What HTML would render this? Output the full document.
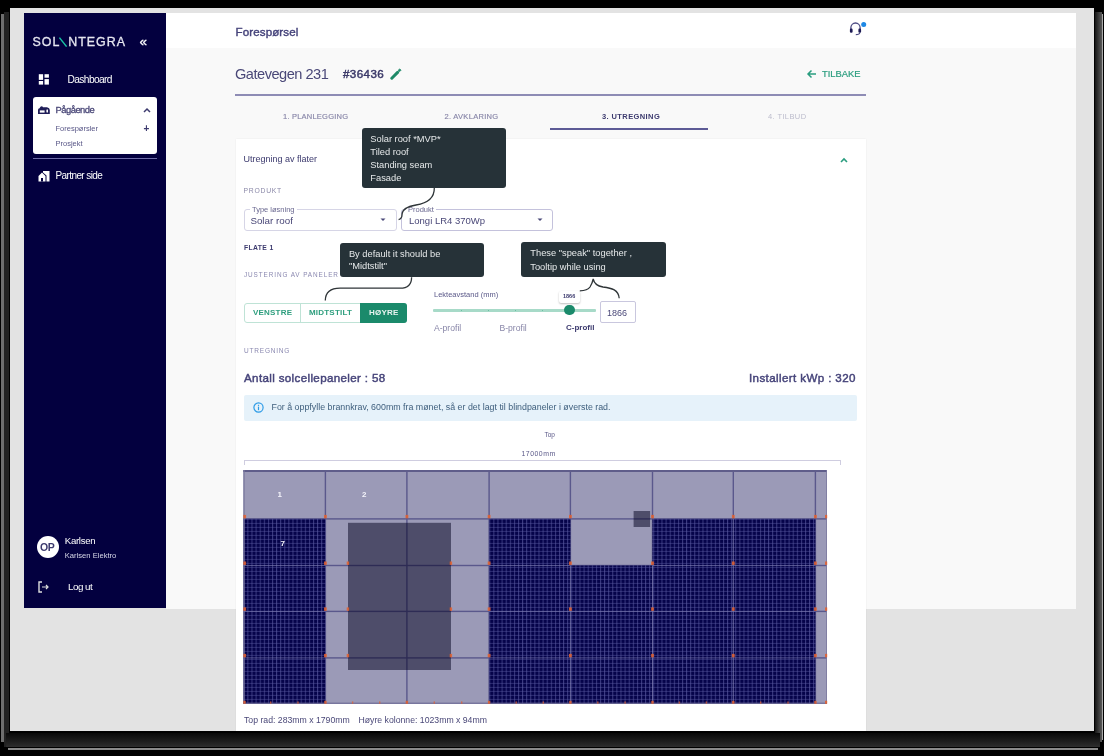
<!DOCTYPE html>
<html><head><meta charset="utf-8">
<style>
*{margin:0;padding:0;box-sizing:border-box}
html,body{width:1104px;height:756px;overflow:hidden;background:#000;font-family:"Liberation Sans",sans-serif}
.a{position:absolute}
.t{position:absolute;white-space:nowrap;line-height:1}
#frame{left:10px;top:8px;width:1084px;height:723px;background:#e3e3e3}
#side{left:24px;top:13px;width:142px;height:595px;background:#03003f}
#hdr{left:166px;top:13px;width:910px;height:35px;background:#fff}
#main{left:166px;top:48px;width:910px;height:561px;background:#f9f9f9}
#card{left:236px;top:139px;width:630px;height:592px;background:#fff;box-shadow:0 0 1.5px rgba(0,0,0,0.08)}
.tip{position:absolute;background:#263238;border-radius:3px;color:#eceff1;font-size:9.5px}
.w{color:#fff}
.pu{color:#3c3a6e}
</style></head><body><div id="wrap" style="position:absolute;left:0;top:0;width:1104px;height:756px;overflow:hidden;filter:blur(0.3px)">
<!-- shadow edges -->
<div class="a" style="left:1px;top:14px;width:3px;height:728px;background:#6e6e6e"></div>
<div class="a" style="left:4px;top:12px;width:5px;height:735px;background:#222"></div>
<div class="a" style="left:1095px;top:12px;width:7px;height:730px;background:linear-gradient(to right,#151515,#5a5a5a)"></div>
<div class="a" style="left:1102px;top:14px;width:1px;height:726px;background:#aaa"></div>
<div class="a" style="left:6px;top:733px;width:1094px;height:14px;background:linear-gradient(#080808,#1a1a1a 50%,#2e2e2e)"></div>
<div class="a" style="left:8px;top:747.5px;width:1090px;height:2px;background:#8a8a8a"></div>

<div id="frame" class="a"></div>
<div id="side" class="a"></div>
<div id="hdr" class="a"></div>
<div id="main" class="a"></div>
<div id="card" class="a"></div>

<!-- SIDEBAR -->
<div class="t" style="left:32.5px;top:36px;font-size:12.4px;letter-spacing:1.0px;color:#e6e6f0;-webkit-text-stroke:0.3px #e6e6f0">SOL<span style="display:inline-block;width:8px"></span>NTEGRA</div>
<svg class="a" style="left:58px;top:37px" width="10" height="11" viewBox="0 0 10 11"><path d="M1.4 0.6 L8.6 9.6" stroke="#19c4a6" stroke-width="1.5"/></svg>
<div class="t w" style="left:139.5px;top:34.5px;font-size:13.5px;-webkit-text-stroke:0.3px #fff">«</div>

<svg class="a" style="left:38px;top:74px" width="12" height="11" viewBox="0 0 12 11">
<rect x="0.8" y="0.2" width="4.3" height="5.7" fill="#fff"/><rect x="6.5" y="0.2" width="4.4" height="3.5" fill="#fff"/>
<rect x="0.8" y="7" width="4.3" height="3.6" fill="#fff"/><rect x="6.5" y="5.1" width="4.4" height="5.5" fill="#fff"/>
</svg>
<div class="t w" style="left:67.5px;top:74.5px;font-size:10.2px;letter-spacing:-0.6px">Dashboard</div>

<div class="a" style="left:33px;top:97px;width:124px;height:57px;background:#fff;border-radius:3px"></div>
<svg class="a" style="left:37px;top:105px" width="14" height="10" viewBox="0 0 14 10">
<path d="M1 9 V5 Q1 3.3 2.5 3.2 L3.5 1.8 Q4.5 0.6 5.5 1.6 L6 2.2 H10 Q12.8 2.8 12.8 5 V9 Z" fill="#1f1d58"/>
<rect x="2.8" y="5.4" width="4.8" height="2.2" fill="#fff"/><ellipse cx="10.2" cy="6" rx="0.9" ry="1.8" fill="#fff"/>
</svg>
<div class="t pu" style="left:55.5px;top:105.2px;font-size:9.4px;letter-spacing:-0.5px;color:#4a4878;-webkit-text-stroke:0.3px #4a4878">Pågående</div>
<svg class="a" style="left:143px;top:107px" width="8" height="6" viewBox="0 0 8 6"><path d="M1 5 L4 2 L7 5" fill="none" stroke="#3c3a6e" stroke-width="1.5"/></svg>
<div class="t" style="left:55.5px;top:125px;font-size:7.5px;color:#5a5888">Forespørsler</div>
<div class="t" style="left:143.5px;top:124px;font-size:10px;font-weight:bold;color:#3c3a6e">+</div>
<div class="t" style="left:55.5px;top:140px;font-size:7.5px;color:#5a5888">Prosjekt</div>

<div class="a" style="left:33px;top:158px;width:124px;height:1px;background:#6e6ca8"></div>

<svg class="a" style="left:38px;top:170px" width="12" height="12" viewBox="0 0 12 12">
<path d="M0.5 6 L4 2.5 L7.5 6 V11.5 H0.5Z" fill="#fff"/><path d="M5 1 h6.5 v10.5 h-3 V5.5 L5 2.5z" fill="#fff"/>
<rect x="3" y="8" width="2" height="3.5" fill="#03003f"/>
</svg>
<div class="t w" style="left:55.5px;top:171px;font-size:10px;letter-spacing:-0.6px">Partner side</div>

<div class="a" style="left:37px;top:536px;width:22px;height:22px;border-radius:50%;background:#fff"></div>
<div class="t" style="left:40px;top:541.5px;font-size:10.5px;font-weight:bold;color:#3c3a6e;letter-spacing:-0.4px">OP</div>
<div class="t w" style="left:64.8px;top:536px;font-size:9.6px;letter-spacing:-0.3px">Karlsen</div>
<div class="t" style="left:64.8px;top:551.5px;font-size:7.6px;color:#d8d8e8">Karlsen Elektro</div>

<svg class="a" style="left:38px;top:581px" width="12" height="12" viewBox="0 0 12 12">
<path d="M4 1 H1 V11 H4" fill="none" stroke="#ddd" stroke-width="1.4"/>
<path d="M4 6 H10 M8 4 L10 6 L8 8" fill="none" stroke="#ddd" stroke-width="1.2"/>
</svg>
<div class="t w" style="left:68px;top:581.5px;font-size:9.8px;letter-spacing:-0.5px">Log ut</div>

<!-- HEADER -->
<div class="t pu" style="left:235.5px;top:25.5px;font-size:11.6px;color:#44427a;-webkit-text-stroke:0.4px #44427a;letter-spacing:0.1px">Forespørsel</div>
<svg class="a" style="left:849px;top:21px" width="18" height="15" viewBox="0 0 18 15">
<path d="M1.9 10 V6.6 a4.6 4.6 0 0 1 9.2 0 V10" fill="none" stroke="#4e4c84" stroke-width="1.3"/>
<rect x="0.9" y="7.6" width="2.7" height="4.2" rx="1.1" fill="#1d1b55"/><rect x="9.4" y="7.6" width="2.7" height="4.2" rx="1.1" fill="#1d1b55"/>
<path d="M10.8 11.5 Q10.6 13.6 6.8 13.7" fill="none" stroke="#4e4c84" stroke-width="1.2"/>
<circle cx="14.7" cy="3.4" r="2.5" fill="#1e88e5"/>
</svg>

<!-- TITLE -->
<div class="t" style="left:235px;top:67px;font-size:14.6px;letter-spacing:-0.5px;color:#4a4878">Gatevegen 231</div>
<div class="t" style="left:343px;top:67.8px;font-size:11.6px;color:#3a3868;-webkit-text-stroke:0.45px #3a3868;letter-spacing:0.4px">#36436</div>
<svg class="a" style="left:390px;top:68px" width="12" height="12" viewBox="0 0 12 12"><path d="M1.8 10.2 L7.6 4.4" stroke="#1e8a68" stroke-width="3" stroke-linecap="round"/><path d="M8.2 2.2 L9.8 0.9 L11 2.2 L9.7 3.6 Z" fill="#1e8a68" stroke="#1e8a68" stroke-width="0.8"/></svg>
<svg class="a" style="left:806px;top:69px" width="11" height="10" viewBox="0 0 11 10"><path d="M10 5 H2 M5.5 1.5 L2 5 L5.5 8.5" fill="none" stroke="#2a9d7f" stroke-width="1.5"/></svg>
<div class="t" style="left:822px;top:69.2px;font-size:9.4px;color:#2a9d7f;-webkit-text-stroke:0.2px #2a9d7f">TILBAKE</div>
<div class="a" style="left:235px;top:93.5px;width:631px;height:2px;background:#8e8cb5"></div>

<!-- STEPPER -->
<div class="t" style="left:283px;top:113px;font-size:7.5px;color:#8886a8;letter-spacing:0.22px;-webkit-text-stroke:0.15px #8886a8">1. PLANLEGGING</div>
<div class="t" style="left:444.5px;top:113px;font-size:7.5px;color:#8886a8;letter-spacing:0.3px;-webkit-text-stroke:0.15px #8886a8">2. AVKLARING</div>
<div class="t" style="left:602px;top:113px;font-size:7.5px;font-weight:bold;color:#3c3a6e;letter-spacing:0.4px">3. UTREGNING</div>
<div class="t" style="left:768px;top:113px;font-size:7.5px;color:#bcbccc;letter-spacing:0.4px">4. TILBUD</div>
<div class="a" style="left:550px;top:128px;width:158px;height:2px;background:#5d5b96"></div>

<!-- CARD CONTENT -->
<div class="t" style="left:243.5px;top:155px;font-size:9px;color:#3c3a6e">Utregning av flater</div>
<svg class="a" style="left:840px;top:157px" width="8" height="6" viewBox="0 0 8 6"><path d="M1 5 L4 2 L7 5" fill="none" stroke="#2a9d7f" stroke-width="1.6"/></svg>
<div class="t" style="left:243.5px;top:188px;font-size:6.8px;color:#8a88a8;letter-spacing:0.75px">PRODUKT</div>

<div class="a" style="left:243.5px;top:209px;width:153px;height:21.5px;border:1px solid #d6d5e6;border-radius:3px"></div>
<div class="t" style="left:250px;top:205.5px;padding:0 2px;background:#fff;font-size:7.5px;color:#6a6890">Type løsning</div>
<div class="t" style="left:250.4px;top:215.5px;font-size:9.8px;color:#4a4878">Solar roof</div>
<svg class="a" style="left:380px;top:218px" width="6" height="4" viewBox="0 0 6 4"><path d="M0.5 0.5 H5.5 L3 3z" fill="#4a4878"/></svg>

<div class="a" style="left:400.5px;top:209px;width:152.5px;height:21.5px;border:1.5px solid #c4c2dc;border-radius:3px"></div>
<div class="t" style="left:406px;top:205.5px;padding:0 2px;background:#fff;font-size:7.5px;color:#6a6890">Produkt</div>
<div class="t" style="left:409px;top:215.5px;font-size:9.5px;color:#4a4878">Longi LR4 370Wp</div>
<svg class="a" style="left:537px;top:218px" width="6" height="4" viewBox="0 0 6 4"><path d="M0.5 0.5 H5.5 L3 3z" fill="#4a4878"/></svg>

<div class="t" style="left:244px;top:245px;font-size:6.8px;font-weight:bold;color:#3c3a6e;letter-spacing:0.35px">FLATE 1</div>
<div class="t" style="left:244px;top:271.5px;font-size:6.4px;color:#8a88b0;letter-spacing:0.9px">JUSTERING AV PANELER</div>

<div class="a" style="left:243.5px;top:302.5px;width:163.5px;height:20px;border:1px solid #bfe3d6;border-radius:3px;background:#fff"></div>
<div class="a" style="left:299.5px;top:302.5px;width:1px;height:20px;background:#bfe3d6"></div>
<div class="a" style="left:360px;top:302.5px;width:47px;height:20px;background:#1b8a6b;border-radius:0 3px 3px 0"></div>
<div class="t" style="left:253px;top:309px;font-size:8px;font-weight:bold;color:#2e9e7e;letter-spacing:0.2px">VENSTRE</div>
<div class="t" style="left:309px;top:309px;font-size:8px;font-weight:bold;color:#2e9e7e;letter-spacing:0.2px">MIDTSTILT</div>
<div class="t" style="left:369px;top:309px;font-size:8px;font-weight:bold;color:#e8f4f0;letter-spacing:0.2px">HØYRE</div>

<div class="t" style="left:434px;top:291.3px;font-size:7.5px;color:#5a5888">Lekteavstand (mm)</div>
<div class="a" style="left:433px;top:309px;width:163px;height:2.6px;background:#a7dac8;border-radius:1px"></div>
<div class="a" style="left:461px;top:309.5px;width:1px;height:1.6px;background:#6cbfa3"></div>
<div class="a" style="left:488px;top:309.5px;width:1px;height:1.6px;background:#6cbfa3"></div>
<div class="a" style="left:515px;top:309.5px;width:1px;height:1.6px;background:#6cbfa3"></div>
<div class="a" style="left:542px;top:309.5px;width:1px;height:1.6px;background:#6cbfa3"></div>
<div class="a" style="left:564px;top:304.6px;width:10.5px;height:10.5px;border-radius:50%;background:#1b8a6b"></div>
<div class="a" style="left:558.5px;top:290.5px;width:21.5px;height:12px;background:#fff;border-radius:2px;box-shadow:0 1px 2px rgba(0,0,0,0.25)"></div>
<div class="t" style="left:563px;top:294px;font-size:5.5px;font-weight:bold;color:#3c3a6e">1866</div>
<div class="a" style="left:600.2px;top:301px;width:36px;height:22px;border:1px solid #c9c7de;border-radius:2px"></div>
<div class="t" style="left:607px;top:308.5px;font-size:9px;color:#4a4878">1866</div>
<div class="t" style="left:434px;top:323.5px;font-size:8.6px;color:#8886a8">A-profil</div>
<div class="t" style="left:499.5px;top:323.5px;font-size:8.6px;color:#8886a8">B-profil</div>
<div class="t" style="left:566px;top:323.5px;font-size:8px;font-weight:bold;color:#3c3a6e">C-profil</div>

<div class="t" style="left:244px;top:347.5px;font-size:6.5px;color:#8a88b0;letter-spacing:0.8px">UTREGNING</div>
<div class="t" style="left:244px;top:371.5px;font-size:11.6px;color:#46447a;-webkit-text-stroke:0.45px #46447a;letter-spacing:0.35px">Antall solcellepaneler : 58</div>
<div class="t" style="left:749px;top:371.5px;font-size:11.6px;color:#46447a;-webkit-text-stroke:0.45px #46447a;letter-spacing:0.38px">Installert kWp : 320</div>

<div class="a" style="left:244px;top:395px;width:613px;height:26px;background:#e6f2fa;border-radius:2px"></div>
<svg class="a" style="left:253px;top:401.8px" width="11" height="11" viewBox="0 0 11 11"><circle cx="5.5" cy="5.5" r="4.6" fill="none" stroke="#2d9be6" stroke-width="1.2"/><rect x="4.9" y="4.6" width="1.2" height="3.6" fill="#2d9be6"/><rect x="4.9" y="2.8" width="1.2" height="1.1" fill="#2d9be6"/></svg>
<div class="t" style="left:271.5px;top:403.3px;font-size:8.85px;color:#40607e">For å oppfylle brannkrav, 600mm fra mønet, så er det lagt til blindpaneler i øverste rad.</div>

<div class="t" style="left:544.5px;top:432px;font-size:6.5px;color:#5a5888">Top</div>
<div class="t" style="left:521.5px;top:451px;font-size:6.9px;letter-spacing:0.5px;color:#5a5888">17000mm</div>
<div class="a" style="left:244px;top:459.5px;width:597px;height:1px;background:#cfcde0"></div>
<div class="a" style="left:244px;top:459.5px;width:1px;height:5px;background:#cfcde0"></div>
<div class="a" style="left:840px;top:459.5px;width:1px;height:5px;background:#cfcde0"></div>

<div class="t" style="left:244px;top:715.5px;font-size:8.7px;color:#4a4878">Top rad: 283mm x 1790mm</div>
<div class="t" style="left:358.5px;top:715.5px;font-size:8.7px;color:#4a4878">Høyre kolonne: 1023mm x 94mm</div>

<!-- GRID -->
<svg class="a" style="left:0;top:0" width="1104" height="756" viewBox="0 0 1104 756">
<defs><pattern id="pv" patternUnits="userSpaceOnUse" x="243.3" y="518.9" width="4.1" height="4.0"><rect width="4.1" height="4.0" fill="#05034a"/><rect x="0" y="0" width="1" height="4.0" fill="#5a5aa2" fill-opacity="0.65"/><rect x="0" y="0" width="4.1" height="0.9" fill="#5a5aa2" fill-opacity="0.5"/></pattern></defs>
<rect x="243.3" y="470" width="583.7" height="233.79999999999995" fill="#9b9ab7"/>
<rect x="243.3" y="518.1999999999999" width="583.7" height="1.4" fill="#5a588c"/>
<rect x="243.3" y="564.8" width="583.7" height="1.4" fill="#5a588c"/>
<rect x="243.3" y="610.6999999999999" width="583.7" height="1.4" fill="#5a588c"/>
<rect x="243.3" y="657.1999999999999" width="583.7" height="1.4" fill="#5a588c"/>
<rect x="324.7" y="470" width="1.4" height="233.79999999999995" fill="#5a588c"/>
<rect x="406.2" y="470" width="1.4" height="233.79999999999995" fill="#5a588c"/>
<rect x="488.40000000000003" y="470" width="1.4" height="233.79999999999995" fill="#5a588c"/>
<rect x="569.6999999999999" y="470" width="1.4" height="233.79999999999995" fill="#5a588c"/>
<rect x="651.8" y="470" width="1.4" height="233.79999999999995" fill="#5a588c"/>
<rect x="732.5999999999999" y="470" width="1.4" height="233.79999999999995" fill="#5a588c"/>
<rect x="814.6999999999999" y="470" width="1.4" height="233.79999999999995" fill="#5a588c"/>
<rect x="243.3" y="518.9" width="82.1" height="46.6" fill="url(#pv)"/>
<rect x="243.3" y="565.5" width="82.1" height="45.9" fill="url(#pv)"/>
<rect x="243.3" y="611.4" width="82.1" height="46.5" fill="url(#pv)"/>
<rect x="243.3" y="657.9" width="82.1" height="45.9" fill="url(#pv)"/>
<rect x="489.1" y="518.9" width="81.3" height="46.6" fill="url(#pv)"/>
<rect x="489.1" y="565.5" width="81.3" height="45.9" fill="url(#pv)"/>
<rect x="489.1" y="611.4" width="81.3" height="46.5" fill="url(#pv)"/>
<rect x="489.1" y="657.9" width="81.3" height="45.9" fill="url(#pv)"/>
<rect x="570.4" y="565.5" width="82.1" height="45.9" fill="url(#pv)"/>
<rect x="570.4" y="611.4" width="82.1" height="46.5" fill="url(#pv)"/>
<rect x="570.4" y="657.9" width="82.1" height="45.9" fill="url(#pv)"/>
<rect x="652.5" y="518.9" width="80.8" height="46.6" fill="url(#pv)"/>
<rect x="652.5" y="565.5" width="80.8" height="45.9" fill="url(#pv)"/>
<rect x="652.5" y="611.4" width="80.8" height="46.5" fill="url(#pv)"/>
<rect x="652.5" y="657.9" width="80.8" height="45.9" fill="url(#pv)"/>
<rect x="733.3" y="518.9" width="82.1" height="46.6" fill="url(#pv)"/>
<rect x="733.3" y="565.5" width="82.1" height="45.9" fill="url(#pv)"/>
<rect x="733.3" y="611.4" width="82.1" height="46.5" fill="url(#pv)"/>
<rect x="733.3" y="657.9" width="82.1" height="45.9" fill="url(#pv)"/>
<rect x="243.3" y="565.0" width="82.1" height="1" fill="#8a8ac0" fill-opacity="0.5"/>
<rect x="243.3" y="610.9" width="82.1" height="1" fill="#8a8ac0" fill-opacity="0.5"/>
<rect x="243.3" y="657.4" width="82.1" height="1" fill="#8a8ac0" fill-opacity="0.5"/>
<rect x="489.1" y="565.0" width="81.3" height="1" fill="#8a8ac0" fill-opacity="0.5"/>
<rect x="569.9" y="565.5" width="1" height="45.9" fill="#9494c8" fill-opacity="0.6"/>
<rect x="489.1" y="610.9" width="81.3" height="1" fill="#8a8ac0" fill-opacity="0.5"/>
<rect x="569.9" y="611.4" width="1" height="46.5" fill="#9494c8" fill-opacity="0.6"/>
<rect x="489.1" y="657.4" width="81.3" height="1" fill="#8a8ac0" fill-opacity="0.5"/>
<rect x="569.9" y="657.9" width="1" height="45.9" fill="#9494c8" fill-opacity="0.6"/>
<rect x="652.0" y="565.5" width="1" height="45.9" fill="#9494c8" fill-opacity="0.6"/>
<rect x="570.4" y="610.9" width="82.1" height="1" fill="#8a8ac0" fill-opacity="0.5"/>
<rect x="652.0" y="611.4" width="1" height="46.5" fill="#9494c8" fill-opacity="0.6"/>
<rect x="570.4" y="657.4" width="82.1" height="1" fill="#8a8ac0" fill-opacity="0.5"/>
<rect x="652.0" y="657.9" width="1" height="45.9" fill="#9494c8" fill-opacity="0.6"/>
<rect x="732.8" y="518.9" width="1" height="46.6" fill="#9494c8" fill-opacity="0.6"/>
<rect x="652.5" y="565.0" width="80.8" height="1" fill="#8a8ac0" fill-opacity="0.5"/>
<rect x="732.8" y="565.5" width="1" height="45.9" fill="#9494c8" fill-opacity="0.6"/>
<rect x="652.5" y="610.9" width="80.8" height="1" fill="#8a8ac0" fill-opacity="0.5"/>
<rect x="732.8" y="611.4" width="1" height="46.5" fill="#9494c8" fill-opacity="0.6"/>
<rect x="652.5" y="657.4" width="80.8" height="1" fill="#8a8ac0" fill-opacity="0.5"/>
<rect x="732.8" y="657.9" width="1" height="45.9" fill="#9494c8" fill-opacity="0.6"/>
<rect x="733.3" y="565.0" width="82.1" height="1" fill="#8a8ac0" fill-opacity="0.5"/>
<rect x="733.3" y="610.9" width="82.1" height="1" fill="#8a8ac0" fill-opacity="0.5"/>
<rect x="733.3" y="657.4" width="82.1" height="1" fill="#8a8ac0" fill-opacity="0.5"/>
<rect x="243.3" y="470" width="583.7" height="2" fill="#5f5d8a"/>
<rect x="243.3" y="470" width="1.5" height="233.79999999999995" fill="#7a789e" fill-opacity="0.8"/>
<rect x="826" y="470" width="1" height="233.79999999999995" fill="#7a789e" fill-opacity="0.8"/>
<rect x="243.3" y="702.5999999999999" width="583.7" height="1.4" fill="#6a6894" fill-opacity="0.8"/>
<rect x="348" y="522.8" width="103" height="147.2" fill="#02001e" fill-opacity="0.5"/>
<rect x="633.6" y="511" width="16.5" height="16" fill="#02001e" fill-opacity="0.5"/>
<rect x="243.3" y="514.9" width="2.8" height="3.4" fill="#e4602e" fill-opacity="0.85"/>
<rect x="324.0" y="514.9" width="2.8" height="3.4" fill="#e4602e" fill-opacity="0.85"/>
<rect x="405.5" y="514.9" width="2.8" height="3.4" fill="#e4602e" fill-opacity="0.85"/>
<rect x="487.7" y="514.9" width="2.8" height="3.4" fill="#e4602e" fill-opacity="0.85"/>
<rect x="569.0" y="514.9" width="2.8" height="3.4" fill="#e4602e" fill-opacity="0.85"/>
<rect x="651.1" y="514.9" width="2.8" height="3.4" fill="#e4602e" fill-opacity="0.85"/>
<rect x="731.9" y="514.9" width="2.8" height="3.4" fill="#e4602e" fill-opacity="0.85"/>
<rect x="814.0" y="514.9" width="2.8" height="3.4" fill="#e4602e" fill-opacity="0.85"/>
<rect x="825.0" y="514.9" width="2.2" height="3.4" fill="#e4602e" fill-opacity="0.85"/>
<rect x="243.3" y="561.5" width="2.8" height="3.4" fill="#e4602e" fill-opacity="0.85"/>
<rect x="324.0" y="561.5" width="2.8" height="3.4" fill="#e4602e" fill-opacity="0.85"/>
<rect x="487.7" y="561.5" width="2.8" height="3.4" fill="#e4602e" fill-opacity="0.85"/>
<rect x="569.0" y="561.5" width="2.8" height="3.4" fill="#e4602e" fill-opacity="0.85"/>
<rect x="651.1" y="561.5" width="2.8" height="3.4" fill="#e4602e" fill-opacity="0.85"/>
<rect x="731.9" y="561.5" width="2.8" height="3.4" fill="#e4602e" fill-opacity="0.85"/>
<rect x="814.0" y="561.5" width="2.8" height="3.4" fill="#e4602e" fill-opacity="0.85"/>
<rect x="825.0" y="561.5" width="2.2" height="3.4" fill="#e4602e" fill-opacity="0.85"/>
<rect x="243.3" y="607.4" width="2.8" height="3.4" fill="#e4602e" fill-opacity="0.85"/>
<rect x="324.0" y="607.4" width="2.8" height="3.4" fill="#e4602e" fill-opacity="0.85"/>
<rect x="487.7" y="607.4" width="2.8" height="3.4" fill="#e4602e" fill-opacity="0.85"/>
<rect x="569.0" y="607.4" width="2.8" height="3.4" fill="#e4602e" fill-opacity="0.85"/>
<rect x="651.1" y="607.4" width="2.8" height="3.4" fill="#e4602e" fill-opacity="0.85"/>
<rect x="731.9" y="607.4" width="2.8" height="3.4" fill="#e4602e" fill-opacity="0.85"/>
<rect x="814.0" y="607.4" width="2.8" height="3.4" fill="#e4602e" fill-opacity="0.85"/>
<rect x="825.0" y="607.4" width="2.2" height="3.4" fill="#e4602e" fill-opacity="0.85"/>
<rect x="243.3" y="653.9" width="2.8" height="3.4" fill="#e4602e" fill-opacity="0.85"/>
<rect x="324.0" y="653.9" width="2.8" height="3.4" fill="#e4602e" fill-opacity="0.85"/>
<rect x="487.7" y="653.9" width="2.8" height="3.4" fill="#e4602e" fill-opacity="0.85"/>
<rect x="569.0" y="653.9" width="2.8" height="3.4" fill="#e4602e" fill-opacity="0.85"/>
<rect x="651.1" y="653.9" width="2.8" height="3.4" fill="#e4602e" fill-opacity="0.85"/>
<rect x="731.9" y="653.9" width="2.8" height="3.4" fill="#e4602e" fill-opacity="0.85"/>
<rect x="814.0" y="653.9" width="2.8" height="3.4" fill="#e4602e" fill-opacity="0.85"/>
<rect x="825.0" y="653.9" width="2.2" height="3.4" fill="#e4602e" fill-opacity="0.85"/>
<rect x="346.7" y="561.5" width="2.4" height="3.4" fill="#e4602e" fill-opacity="0.85"/>
<rect x="449.7" y="561.5" width="2.4" height="3.4" fill="#e4602e" fill-opacity="0.85"/>
<rect x="346.7" y="607.4" width="2.4" height="3.4" fill="#e4602e" fill-opacity="0.85"/>
<rect x="449.7" y="607.4" width="2.4" height="3.4" fill="#e4602e" fill-opacity="0.85"/>
<rect x="346.7" y="653.9" width="2.4" height="3.4" fill="#e4602e" fill-opacity="0.85"/>
<rect x="449.7" y="653.9" width="2.4" height="3.4" fill="#e4602e" fill-opacity="0.85"/>
<rect x="243.3" y="700.8" width="2.4" height="3" fill="#e4602e" fill-opacity="0.85"/>
<rect x="270.0" y="701.4" width="1.4" height="2.4" fill="#e4602e" fill-opacity="0.7"/>
<rect x="297.3" y="701.4" width="1.4" height="2.4" fill="#e4602e" fill-opacity="0.7"/>
<rect x="324.2" y="700.8" width="2.4" height="3" fill="#e4602e" fill-opacity="0.85"/>
<rect x="351.9" y="701.4" width="1.4" height="2.4" fill="#e4602e" fill-opacity="0.7"/>
<rect x="379.0" y="701.4" width="1.4" height="2.4" fill="#e4602e" fill-opacity="0.7"/>
<rect x="405.7" y="700.8" width="2.4" height="3" fill="#e4602e" fill-opacity="0.85"/>
<rect x="433.6" y="701.4" width="1.4" height="2.4" fill="#e4602e" fill-opacity="0.7"/>
<rect x="461.0" y="701.4" width="1.4" height="2.4" fill="#e4602e" fill-opacity="0.7"/>
<rect x="487.9" y="700.8" width="2.4" height="3" fill="#e4602e" fill-opacity="0.85"/>
<rect x="515.5" y="701.4" width="1.4" height="2.4" fill="#e4602e" fill-opacity="0.7"/>
<rect x="542.6" y="701.4" width="1.4" height="2.4" fill="#e4602e" fill-opacity="0.7"/>
<rect x="569.2" y="700.8" width="2.4" height="3" fill="#e4602e" fill-opacity="0.85"/>
<rect x="597.1" y="701.4" width="1.4" height="2.4" fill="#e4602e" fill-opacity="0.7"/>
<rect x="624.4" y="701.4" width="1.4" height="2.4" fill="#e4602e" fill-opacity="0.7"/>
<rect x="651.3" y="700.8" width="2.4" height="3" fill="#e4602e" fill-opacity="0.85"/>
<rect x="678.7" y="701.4" width="1.4" height="2.4" fill="#e4602e" fill-opacity="0.7"/>
<rect x="705.7" y="701.4" width="1.4" height="2.4" fill="#e4602e" fill-opacity="0.7"/>
<rect x="732.1" y="700.8" width="2.4" height="3" fill="#e4602e" fill-opacity="0.85"/>
<rect x="760.0" y="701.4" width="1.4" height="2.4" fill="#e4602e" fill-opacity="0.7"/>
<rect x="787.3" y="701.4" width="1.4" height="2.4" fill="#e4602e" fill-opacity="0.7"/>
<rect x="814.2" y="700.8" width="2.4" height="3" fill="#e4602e" fill-opacity="0.85"/>
<rect x="825.0" y="700.8" width="2.2" height="3" fill="#e4602e" fill-opacity="0.85"/>
</svg>
<div class="t" style="left:277.5px;top:491px;font-size:8px;font-weight:bold;color:#f4f4fa">1</div>
<div class="t" style="left:362px;top:491px;font-size:8px;font-weight:bold;color:#f4f4fa">2</div>
<div class="t" style="left:280.5px;top:540px;font-size:8px;font-weight:bold;color:#f4f4fa">7</div>

<!-- TOOLTIPS -->
<div class="tip" style="left:361.5px;top:128px;width:144.5px;height:60px"></div>
<div class="t" style="left:370.3px;top:133.2px;font-size:9.3px;color:#e6e9ea;line-height:12.8px">Solar roof *MVP*<br>Tiled roof<br>Standing seam<br>Fasade</div>
<div class="tip" style="left:339.5px;top:242.5px;width:144.5px;height:34.7px"></div>
<div class="t" style="left:348.9px;top:248px;font-size:9.3px;color:#e6e9ea;line-height:12.2px">By default it should be<br>"Midtstilt"</div>
<div class="tip" style="left:521px;top:242.2px;width:144.5px;height:35.2px"></div>
<div class="t" style="left:530.3px;top:247.3px;font-size:9.3px;color:#e6e9ea;line-height:13.4px">These "speak" together ,<br>Tooltip while using</div>
<svg class="a" style="left:0;top:0;overflow:visible" width="1104" height="756">
<path d="M434.3 188 C434.5 198 428 203 416 205 C404 207 402 212 402 215 C402 218 400.5 219 398.6 219.6" fill="none" stroke="#2f3538" stroke-width="1.3"/>
<path d="M411.6 277.2 C411.6 284 408 288.2 400 288.2 L340 288.2 C330 288.2 325.5 293 325.3 300.4" fill="none" stroke="#2f3538" stroke-width="1.3"/>
<path d="M579.8 290.9 C584 290.8 588 290 590 287 C591.8 284 592.7 281.5 593.2 279 C594 283 597 286 603 287 C612 288 618.5 290 619.2 298.3" fill="none" stroke="#2f3538" stroke-width="1.3"/>
</svg>

</div></body></html>
